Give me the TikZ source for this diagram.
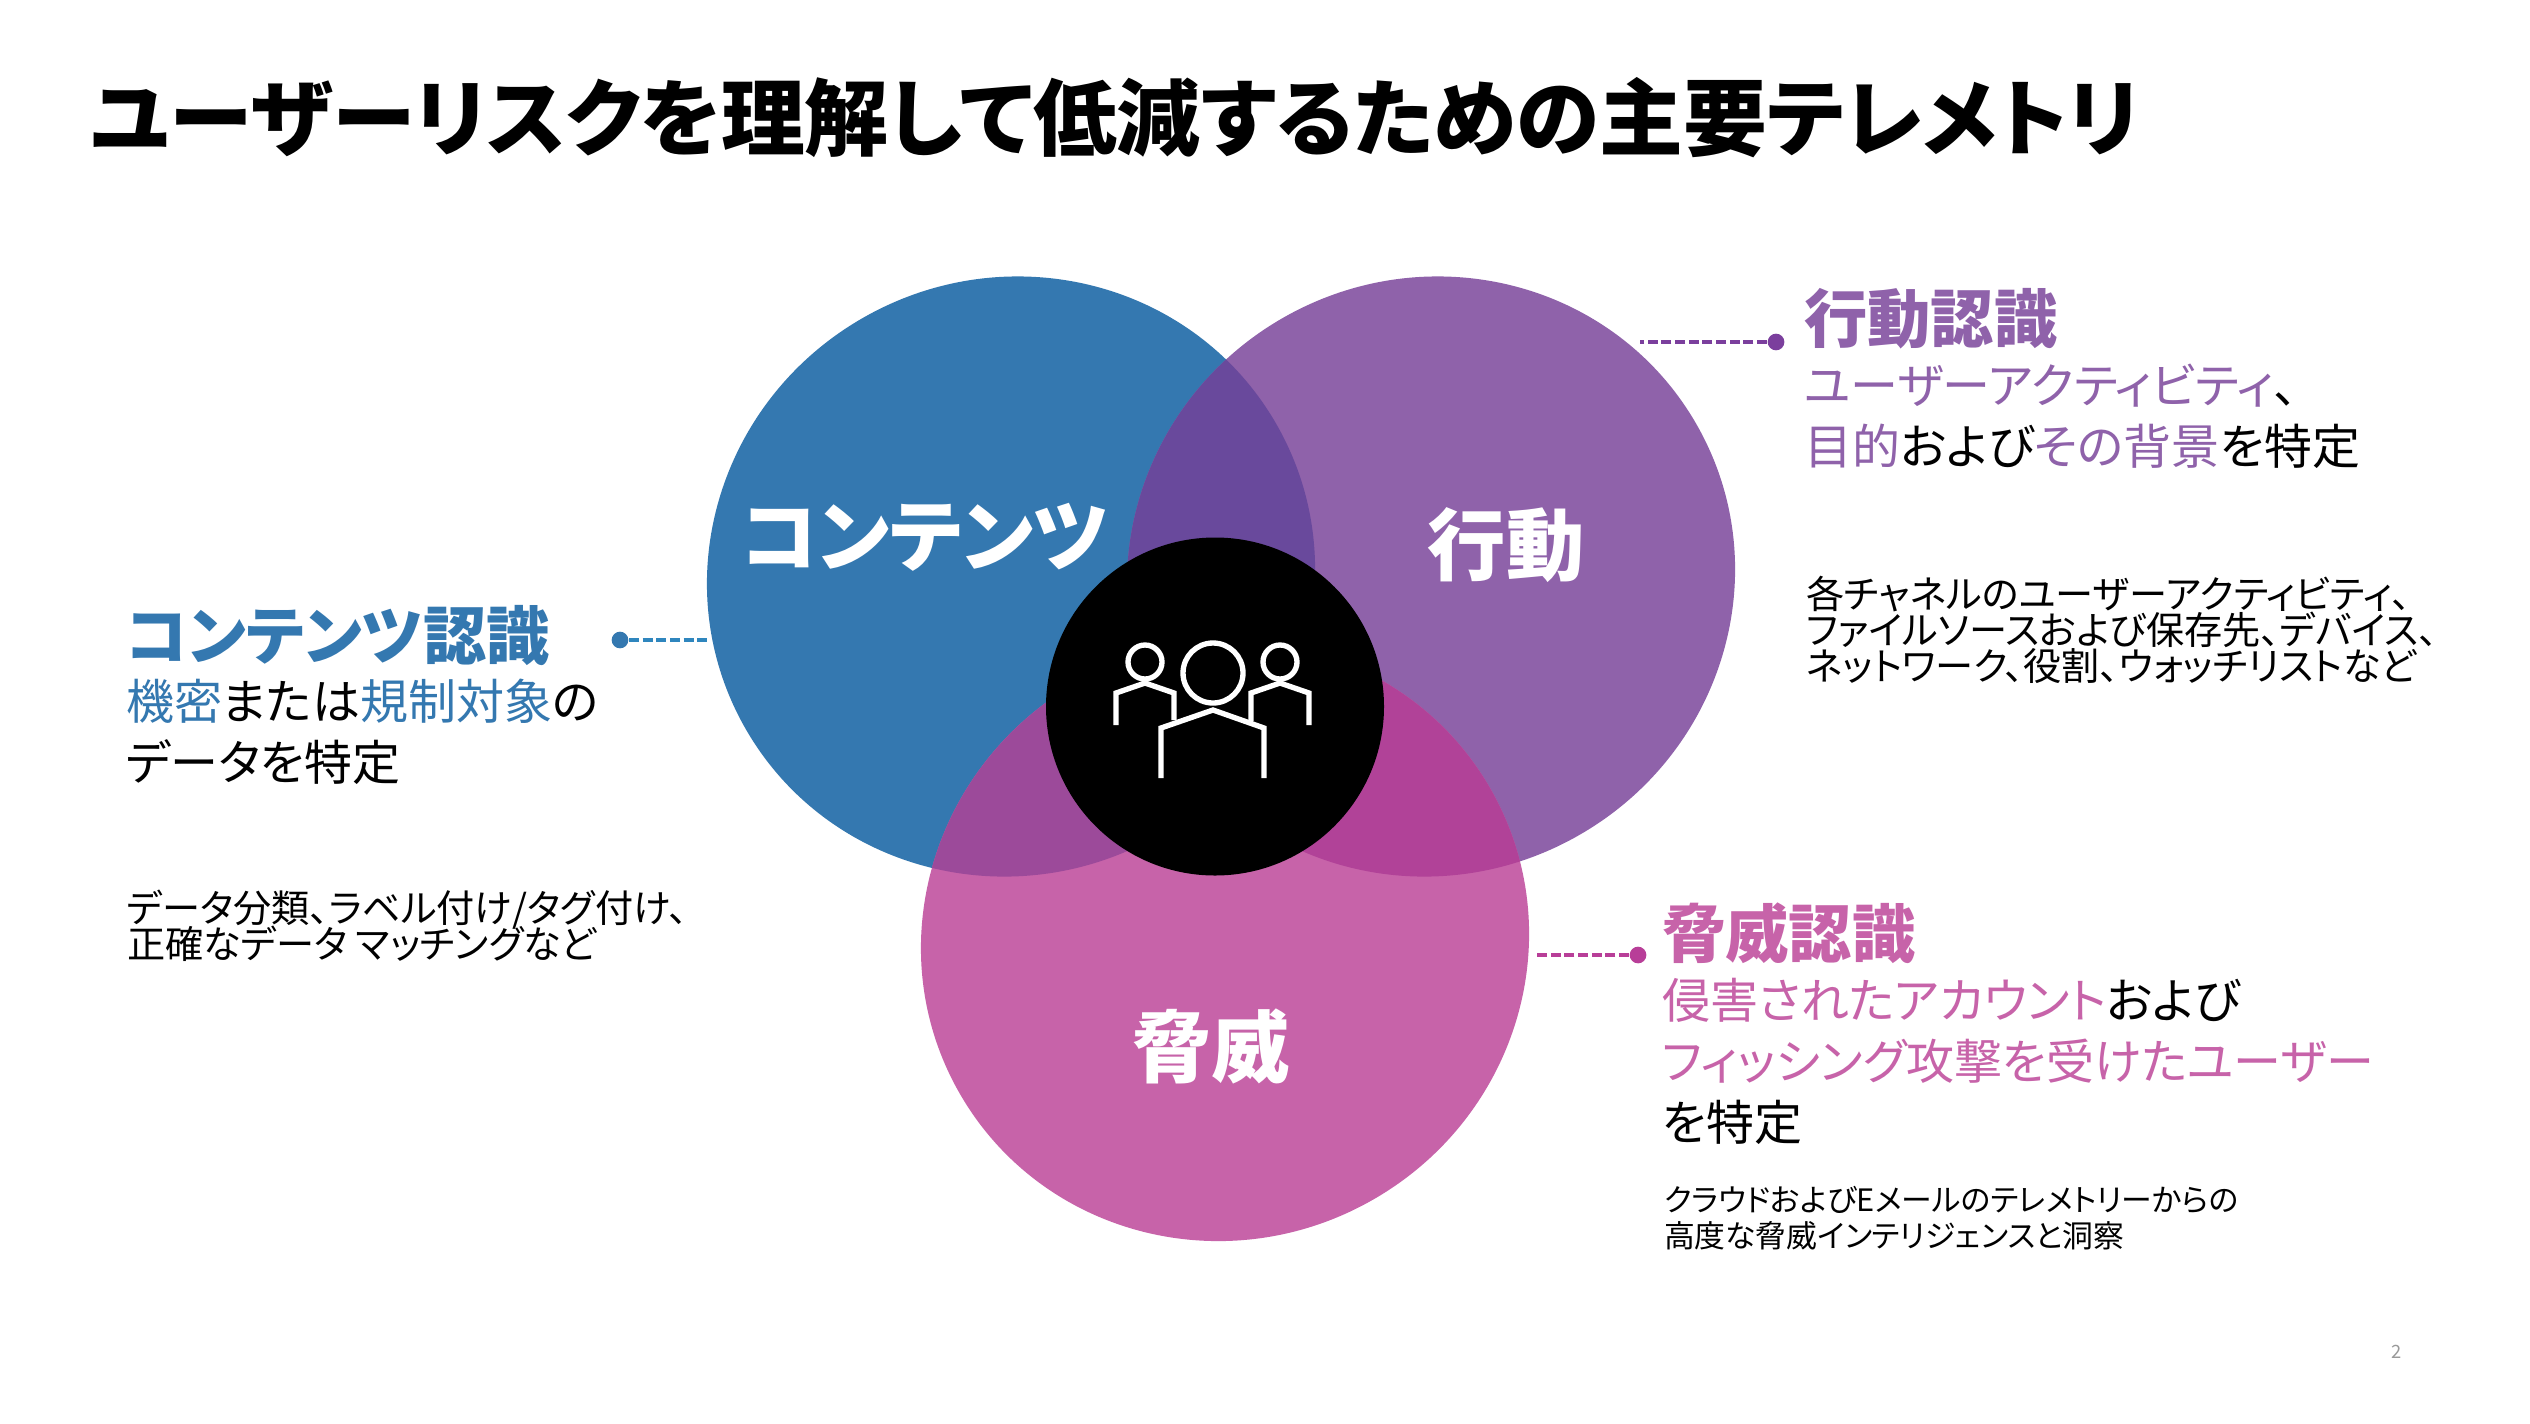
\documentclass[tikz,border=0pt]{standalone}
\usepackage{fontspec}
\setmainfont{Noto Sans CJK JP}[RawFeature={+palt}]
\lineskiplimit=-100pt
\definecolor{cblue}{HTML}{3478B0}
\definecolor{cpurple}{HTML}{8F62AA}
\definecolor{cpink}{HTML}{C763A9}
\definecolor{ovbp}{HTML}{69499C}
\definecolor{ovbk}{HTML}{9C4A9A}
\definecolor{ovpk}{HTML}{B14298}
\definecolor{dotblue}{HTML}{3478B0}
\definecolor{dotpurple}{HTML}{7B3F9D}
\definecolor{dotpink}{HTML}{B83E98}
\definecolor{dashblue}{HTML}{2F86BE}
\tikzset{
  tx/.style={inner sep=0pt,outer sep=0pt,anchor=west,align=left},
  titletx/.style={tx,font=\fontsize{25.15}{28}\selectfont\bfseries},
  headtx/.style={tx,font=\fontsize{19}{24}\selectfont\bfseries},
  subtx/.style={tx,font=\fontsize{14.4}{18.3}\selectfont},
  smalltx/.style={tx,font=\fontsize{11.45}{10.8}\selectfont},
  smalltxb/.style={tx,font=\fontsize{9.25}{10.8}\selectfont},
  circtx/.style={inner sep=0pt,text=white,font=\fontsize{23.5}{28}\selectfont\bfseries},
  dotn/.style={circle,inner sep=0pt,minimum size=5pt},
  conn/.style={dashed,dash pattern=on 3pt off 1.1pt,line width=1.1pt},
  icon/.style={draw=white,line width=1.6pt,miter limit=10}
}
\begin{document}
\begin{tikzpicture}[x=0.3pt,y=-0.3pt]
\useasboundingbox (0,0) rectangle (2530,1423);
\fill[white] (0,0) rectangle (2530,1423);
% circles
\def\cA{(1011,576.5) circle [x radius=306,y radius=298,rotate=30]}
\def\cB{(1431,576.5) circle [x radius=306,y radius=298,rotate=30]}
\def\cC{(1225,941) circle [x radius=306,y radius=298,rotate=30]}
\fill[cblue] \cA;
\fill[cpurple] \cB;
\fill[cpink] \cC;
\begin{scope}\clip \cA; \fill[ovbp] \cB; \end{scope}
\begin{scope}\clip \cA; \fill[ovbk] \cC; \end{scope}
\begin{scope}\clip \cB; \fill[ovpk] \cC; \end{scope}
\fill[black] (1215,706.5) circle [radius=169];
% icon
\draw[icon] (1213,673) circle [radius=30];
\draw[icon] (1161,778) -- (1161,728) -- (1213,710) -- (1264,728) -- (1264,778);
\draw[icon] (1145,662) circle [radius=17];
\draw[icon] (1116,725) -- (1116,693) -- (1145,683) -- (1174,693) -- (1174,720);
\draw[icon] (1280,662) circle [radius=17];
\draw[icon] (1309,725) -- (1309,693) -- (1280,683) -- (1251,693) -- (1251,721);
% circle labels
\node[circtx] (lblA) at (925,537) {コンテンツ};
\node[circtx] (lblB) at (1506,545) {行動};
\node[circtx] (lblC) at (1211,1046) {脅威};
% connectors
\node[dotn,fill=dotblue] (dotA) at (620,640) {};
\coordinate (endA) at (708,640);
\draw[conn,dashblue] (dotA) -- (endA);
\node[dotn,fill=dotpurple] (dotB) at (1776,342) {};
\coordinate (endB) at (1640,342);
\draw[conn,dotpurple] (dotB) -- (endB);
\node[dotn,fill=dotpink] (dotC) at (1638,955) {};
\coordinate (endC) at (1536,955);
\draw[conn,dotpink] (dotC) -- (endC);
% title
\node[titletx] (title) at (90,118) {ユーザーリスクを理解して低減するための主要テレメトリ};
% left
\node[headtx,text=cblue] (hA) at (126,636) {コンテンツ認識};
\node[subtx] (sA) at (126,732) {\textcolor{cblue}{機密}または\textcolor{cblue}{規制対象}の\\データを特定};
\node[smalltx] (dA) at (127,926) {データ分類、ラベル付け/タグ付け、\\正確なデータ マッチングなど};
% right top
\node[headtx,text=cpurple] (hB) at (1804,319) {行動認識};
\node[subtx] (sB) at (1804,416) {\textcolor{cpurple}{ユーザーアクティビティ}、\\\textcolor{cpurple}{目的}および\textcolor{cpurple}{その背景}を特定};
\node[smalltx] (dB) at (1806,630) {各チャネルのユーザーアクティビティ、\\ファイルソースおよび保存先、デバイス、\\ネットワーク、役割、ウォッチリストなど};
% right bottom
\node[headtx,text=cpink] (hC) at (1662,933) {脅威認識};
\node[subtx] (sC) at (1662,1061) {\textcolor{cpink}{侵害されたアカウント}および\\\textcolor{cpink}{フィッシング攻撃を受けたユーザー}\\を特定};
\node[smalltxb] (dC) at (1664,1218) {クラウドおよびEメールのテレメトリーからの\\高度な脅威インテリジェンスと洞察};
% page number
\node[inner sep=0pt,text=black!40,font=\fontsize{5.5}{6}\selectfont] (pg) at (2397,1352) {2};
\end{tikzpicture}
\end{document}
